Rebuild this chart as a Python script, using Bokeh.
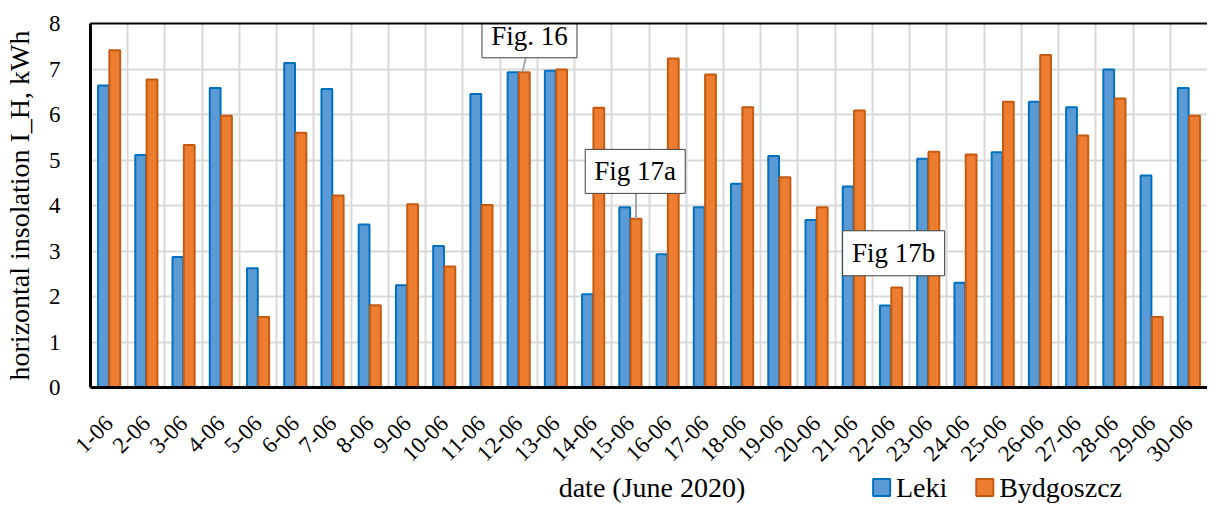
import math
from bokeh.plotting import figure
from bokeh.layouts import column
from bokeh.models import ColumnDataSource, FixedTicker, LinearAxis
from bokeh.core.properties import value
from bokeh.embed import file_html
from bokeh.resources import INLINE

# ---------------- data ----------------
days = ["1-06", "2-06", "3-06", "4-06", "5-06", "6-06", "7-06", "8-06", "9-06", "10-06",
        "11-06", "12-06", "13-06", "14-06", "15-06", "16-06", "17-06", "18-06", "19-06", "20-06",
        "21-06", "22-06", "23-06", "24-06", "25-06", "26-06", "27-06", "28-06", "29-06", "30-06"]
leki = [6.64, 5.11, 2.87, 6.58, 2.62, 7.13, 6.56, 3.58, 2.25, 3.11,
        6.45, 6.93, 6.96, 2.05, 3.96, 2.93, 3.96, 4.48, 5.09, 3.68,
        4.42, 1.80, 5.03, 2.30, 5.17, 6.28, 6.16, 6.99, 4.66, 6.58]
bydgoszcz = [7.41, 6.77, 5.33, 5.97, 1.55, 5.60, 4.22, 1.81, 4.03, 2.66,
             4.01, 6.93, 6.99, 6.15, 3.71, 7.23, 6.88, 6.16, 4.62, 3.96,
             6.09, 2.20, 5.18, 5.12, 6.28, 7.31, 5.54, 6.35, 1.55, 5.97]
series_names = ["Leki", "Bydgoszcz"]
y_ticks = [0, 1, 2, 3, 4, 5, 6, 7, 8]
x_title = "date (June 2020)"
y_title = "horizontal insolation I_H, kWh"

callout_texts = ["Fig. 16", "Fig 17a", "Fig 17b"]
callout_days = ["12-06", "15-06", "22-06"]

# ---------------- layout / styles ----------------
FONT = "Liberation Serif"
BLUE_FILL, BLUE_LINE = "#5B9BD5", "#0070C0"
ORANGE_FILL, ORANGE_LINE = "#ED7D31", "#C55A11"
GRID = "#D9D9D9"
BAR_W = 0.29
OFF = 0.152
W = 1207
LEFT = 81
H_MAIN, H_BOTTOM = 471, 32

n = len(days)
xs = [i + 1 for i in range(n)]

p = figure(width=W, height=H_MAIN, x_range=(0.5, n + 0.5), y_range=(0, 8),
           output_backend="svg", toolbar_location=None,
           min_border_left=LEFT, min_border_right=0, min_border_top=23, min_border_bottom=82)
p.outline_line_color = None
p.background_fill_color = "white"

# grids
p.ygrid.ticker = FixedTicker(ticks=y_ticks)
p.xgrid.ticker = FixedTicker(ticks=[i + 0.5 for i in range(n + 1)])
for g in (p.xgrid, p.ygrid):
    g.grid_line_color = GRID
    g.grid_line_width = 2

src = ColumnDataSource(dict(
    xb=[x - OFF for x in xs], xo=[x + OFF for x in xs], leki=leki, byd=bydgoszcz))
r1 = p.vbar(x="xb", top="leki", width=BAR_W, source=src,
            fill_color=BLUE_FILL, line_color=BLUE_LINE, line_width=2)
r2 = p.vbar(x="xo", top="byd", width=BAR_W, source=src,
            fill_color=ORANGE_FILL, line_color=ORANGE_LINE, line_width=2)

# axes
p.yaxis.ticker = FixedTicker(ticks=y_ticks)
p.yaxis.axis_label = y_title
p.xaxis.ticker = FixedTicker(ticks=xs)
p.xaxis.major_label_overrides = {x: d for x, d in zip(xs, days)}
p.xaxis.major_label_orientation = math.pi / 4
for ax in (p.xaxis[0], p.yaxis[0]):
    ax.axis_line_color = "black"
    ax.axis_line_width = 3
    ax.major_tick_line_color = None
    ax.minor_tick_line_color = None
    ax.major_label_text_font = FONT
    ax.major_label_text_font_size = "23px"
    ax.major_label_text_color = "black"
    ax.axis_label_text_font = FONT
    ax.axis_label_text_font_size = "28px"
    ax.axis_label_text_font_style = "normal"
    ax.axis_label_text_color = "black"
p.yaxis.major_label_standoff = 24
p.yaxis.axis_label_standoff = 11
p.xaxis.major_label_standoff = 26

top_axis = LinearAxis(ticker=FixedTicker(ticks=[]), axis_line_color="black", axis_line_width=2,
                      major_tick_line_color=None, minor_tick_line_color=None,
                      major_label_text_font_size="0px")
p.add_layout(top_axis, "above")

# callouts
idx = {d: i for i, d in enumerate(days)}
box_dx = [0.29, 0.13, 0.07]
box_y = [7.73, 4.75, 2.95]
box_w = [95, 100, 102]
box_h = [44, 44, 45]
cx = [xs[idx[d]] + dx for d, dx in zip(callout_days, box_dx)]

lead_x0, lead_y0, lead_x1, lead_y1 = [], [], [], []
for k in range(2):
    i = idx[callout_days[k]]
    lead_x0.append(cx[k] - 0.1 + 0.03 * k * 4)
    lead_y0.append(box_y[k] - 0.48)
    lead_x1.append(xs[i] + OFF - 0.05 * (1 - k))
    lead_y1.append(bydgoszcz[i])
p.segment(x0=lead_x0, y0=lead_y0, x1=lead_x1, y1=lead_y1, line_color="#A6A6A6", line_width=2)

p.rect(x=cx, y=box_y, width=box_w, height=box_h, width_units="screen", height_units="screen",
       fill_color="white", line_color="#404040", line_width=1)
p.text(x=cx, y=box_y, text=callout_texts, text_align="center", text_baseline="middle",
       text_font=value(FONT), text_font_size="27px", text_color="black")

# ---------------- bottom strip: x-axis title + legend (figure pixel coordinates) ----------------
# the column aligns this strip's frame with the main frame (LEFT .. W)
p2 = figure(width=W, height=H_BOTTOM, x_range=(LEFT, W), y_range=(0, H_BOTTOM),
            output_backend="svg", toolbar_location=None,
            x_axis_location=None, y_axis_location=None, min_border=0)
p2.outline_line_color = None
p2.grid.visible = False
mid = H_BOTTOM / 2
p2.text(x=[647], y=[mid], text=[x_title], text_align="center",
        text_baseline="middle", text_font=value(FONT), text_font_size="28px", text_color="black")

leg_x = [870, 974]          # left edge of each legend swatch (px)
sw = 17                     # swatch size (px)
p2.rect(x=[lx + sw / 2 for lx in leg_x], y=[mid, mid], width=[sw, sw], height=[sw, sw],
        width_units="screen", height_units="screen",
        fill_color=[BLUE_FILL, ORANGE_FILL], line_color=[BLUE_LINE, ORANGE_LINE], line_width=2)
p2.text(x=[lx + sw + 6 for lx in leg_x], y=[mid, mid], text=series_names, text_align="left",
        text_baseline="middle", text_font=value(FONT), text_font_size="28px", text_color="black")

layout = column(p, p2, spacing=0)
open("out.html", "w").write(file_html(layout, INLINE))
